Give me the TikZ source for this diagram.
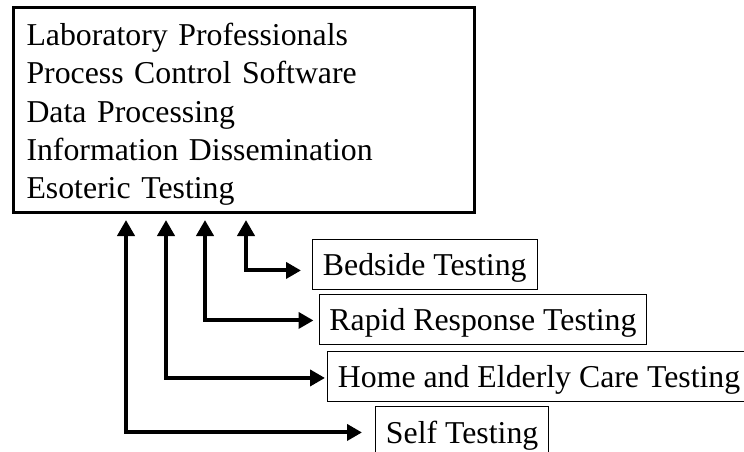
\documentclass[tikz,border=0pt]{standalone}
\usepackage{fontspec}
\setmainfont{Liberation Serif}
\usetikzlibrary{arrows.meta,calc}
\begin{document}
\begin{tikzpicture}[x=1pt,y=-1pt,
  every node/.style={font=\fontsize{31.8}{38.2}\selectfont},
  mainbox/.style={draw, line width=3pt, anchor=north west, minimum width=461pt,
    inner xsep=13pt, inner ysep=0pt, text width=435pt, align=left,
    text height=38.3pt, text depth=166.7pt},
  testbox/.style={draw, line width=0.9pt, anchor=north west, text height=36pt, text depth=14pt,
    inner ysep=0pt, inner xsep=10.5pt},
  conn/.style={line width=4pt, {Triangle[length=16pt,width=17pt]}-{Triangle[length=15pt,width=16pt]}}]
\useasboundingbox[fill=white] (0,0) rectangle (744,452);
\node[mainbox] (main) at (12,6) {Laboratory Professionals\\Process Control Software\\Data Processing\\Information Dissemination\\Esoteric Testing};
\node[testbox] (bed) at (312,239) {Bedside Testing};
\node[testbox] (rapid) at (318.5,294) {Rapid Response Testing};
\node[testbox] (home) at (327,351) {Home and Elderly Care Testing};
\node[testbox, text height=37pt] (self) at (375,406) {Self Testing};
\draw[conn, shorten <=6pt, shorten >=11pt] ($(main.south west)+(234,0)$) |- ($(bed.west)+(0,6)$);
\draw[conn, shorten <=6pt, shorten >=5pt] ($(main.south west)+(193,0)$) |- ($(rapid.west)+(0,1)$);
\draw[conn, shorten <=6pt, shorten >=2pt] ($(main.south west)+(154,0)$) |- ($(home.west)+(0,1.5)$);
\draw[conn, shorten <=6pt, shorten >=13pt] ($(main.south west)+(114,0)$) |- ($(self.west)+(0,0.5)$);
\end{tikzpicture}
\end{document}
